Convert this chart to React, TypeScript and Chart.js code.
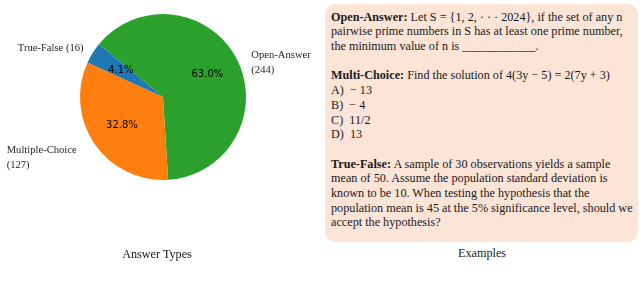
import React, { useEffect, useRef } from "react";
import { Chart, registerables } from "chart.js";

Chart.register(...registerables);

const categories = ["Open-Answer", "Multiple-Choice", "True-False"];
const counts = [244, 127, 16];
const sliceColors = ["#2ca02c", "#ff7f0e", "#1f77b4"];
const breakLabel = [true, true, false];
const labelNudgeX = [7, -11, -2];
const labelNudgeY = [0, 2, 0];

const exampleParagraphs: { title: string; lines: string[] }[] = [
  {
    title: "Open-Answer:",
    lines: [
      " Let S = {1, 2, · · · 2024}, if the set of any n",
      "pairwise prime numbers in S has at least one prime number,",
      "the minimum value of n is ____________.",
    ],
  },
  {
    title: "Multi-Choice:",
    lines: [
      " Find the solution of 4(3y − 5) = 2(7y + 3)",
      "A)  − 13",
      "B)  − 4",
      "C)  11/2",
      "D)  13",
    ],
  },
  {
    title: "True-False:",
    lines: [
      " A sample of 30 observations yields a sample",
      "mean of 50. Assume the population standard deviation is",
      "known to be 10. When testing the hypothesis that the",
      "population mean is 45 at the 5% significance level, should we",
      "accept the hypothesis?",
    ],
  },
];

const pieLabelsPlugin = {
  id: "pieLabels",
  afterDatasetsDraw(chart: any) {
    const ctx = chart.ctx;
    const meta = chart.getDatasetMeta(0);
    const total = counts.reduce((a, b) => a + b, 0);
    meta.data.forEach((arc: any, i: number) => {
      const p = arc.getProps(["x", "y", "startAngle", "endAngle", "outerRadius"], true);
      const mid = (p.startAngle + p.endAngle) / 2;
      const r = p.outerRadius;
      const c = Math.cos(mid);
      const s = Math.sin(mid);
      ctx.save();
      ctx.fillStyle = "#000";
      ctx.font = '10px "DejaVu Sans"';
      ctx.textAlign = "center";
      ctx.textBaseline = "middle";
      const pct = ((counts[i] / total) * 100).toFixed(1) + "%";
      ctx.fillText(pct, p.x + c * r * 0.6, p.y + s * r * 0.6);
      const ax = p.x + c * r * 1.1 + labelNudgeX[i];
      const ay = p.y + s * r * 1.1 + labelNudgeY[i];
      const text = breakLabel[i]
        ? `${categories[i]}\n(${counts[i]})`
        : `${categories[i]} (${counts[i]})`;
      const lines = text.split("\n");
      ctx.font = '10.6px "Liberation Serif"';
      ctx.fillStyle = "#262626";
      ctx.textBaseline = "middle";
      const widths = lines.map((l) => ctx.measureText(l).width);
      const blockW = Math.max(...widths);
      const left = c >= 0 ? ax : ax - blockW;
      ctx.textAlign = "left";
      lines.forEach((l, k) => {
        ctx.fillText(l, left, ay + k * 15);
      });
      ctx.restore();
    });
  },
};

function PieChart() {
  const ref = useRef<HTMLCanvasElement | null>(null);
  useEffect(() => {
    if (!ref.current) return;
    const chart = new Chart(ref.current, {
      type: "pie",
      data: {
        labels: categories,
        datasets: [
          {
            data: counts,
            backgroundColor: sliceColors,
            borderWidth: 0,
          },
        ],
      },
      options: {
        responsive: false,
        animation: false,
        devicePixelRatio: 1,
        rotation: -50.5,
        layout: { padding: { left: 80, right: 74, top: 14, bottom: 102 } },
        plugins: {
          legend: { display: false },
          tooltip: { enabled: false },
        },
      },
      plugins: [pieLabelsPlugin],
    } as any);
    return () => chart.destroy();
  }, []);
  return (
    <canvas
      ref={ref}
      width={320}
      height={282}
      style={{ position: "absolute", left: 0, top: 0, width: 320, height: 282 }}
    />
  );
}

export default function App() {
  const font = '"Liberation Serif", "Times New Roman", serif';
  return (
    <div
      style={{
        position: "fixed",
        left: 0,
        top: 0,
        width: 640,
        height: 282,
        background: "#fff",
        fontFamily: font,
        color: "#1a1a1a",
        overflow: "hidden",
      }}
    >
      <PieChart />
      <div
        style={{
          position: "absolute",
          left: 57,
          width: 200,
          top: 246,
          textAlign: "center",
          fontSize: 12.2,
          lineHeight: "16px",
        }}
      >
        Answer Types
      </div>
      <div
        style={{
          position: "absolute",
          left: 382,
          width: 200,
          top: 245,
          textAlign: "center",
          fontSize: 12.2,
          lineHeight: "16px",
        }}
      >
        Examples
      </div>
      <div
        style={{
          position: "absolute",
          left: 325,
          top: 4,
          width: 313,
          height: 238,
          borderRadius: 11,
          background: "#fce4d7",
          boxSizing: "border-box",
          paddingLeft: 6,
          paddingTop: 5.6,
          fontSize: 12.2,
          lineHeight: "14.7px",
        }}
      >
        {exampleParagraphs.map((para, pi) => (
          <div key={pi} style={{ marginBottom: pi < exampleParagraphs.length - 1 ? 14.7 : 0 }}>
            {para.lines.map((line, li) => (
              <div key={li} style={{ whiteSpace: "pre" }}>
                {li === 0 ? <b>{para.title}</b> : null}
                {line}
              </div>
            ))}
          </div>
        ))}
      </div>
    </div>
  );
}
